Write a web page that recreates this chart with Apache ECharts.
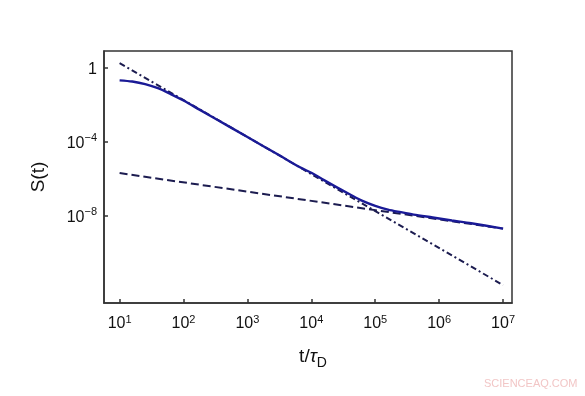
<!DOCTYPE html>
<html>
<head>
<meta charset="utf-8">
<script src="https://cdn.jsdelivr.net/npm/echarts@6/dist/echarts.min.js"></script>
<style>
html,body{margin:0;padding:0;background:#fff;}
#c{width:585px;height:396px;position:relative;}
#wm{position:absolute;left:484px;top:377px;font:11px "Liberation Sans",Arial,sans-serif;color:#f2c6c6;letter-spacing:0px;}
</style>
</head>
<body>
<div id="c"></div>
<div id="wm">SCIENCEAQ.COM</div>
<script>
// Solid curve S(t)
const tSolid = [10, 15.8, 25.1, 39.8, 63.1, 100, 178, 316, 1000, 3160, 6760, 1e4, 1.58e4, 2.51e4, 3.98e4, 6.31e4, 1e5, 1.58e5, 2.51e5, 3.98e5, 7.94e5, 1.58e6, 3.16e6, 1e7];
const sSolid = [0.216, 0.186, 0.135, 0.0813, 0.0389, 0.0174, 5.62e-3, 1.82e-3, 1.86e-4, 1.91e-5, 4.17e-6, 2.19e-6, 8.71e-7, 3.55e-7, 1.51e-7, 6.61e-8, 3.55e-8, 2.24e-8, 1.62e-8, 1.20e-8, 8.32e-9, 5.75e-9, 4.07e-9, 2.09e-9];
// Dash-dot asymptote (t^-2)
const tDashDot = [10, 1e7];
const sDashDot = [1.86, 1.86e-12];
// Dashed asymptote (t^-1/2)
const tDashed = [10, 1e7];
const sDashed = [2.09e-6, 2.09e-9];
// Tick values
const xTicks = [10, 100, 1000, 1e4, 1e5, 1e6, 1e7];
const yTicks = [1, 1e-4, 1e-8];

const pair = (xs, ys) => xs.map((x, i) => [x, ys[i]]);
const expOf = v => Math.round(Math.log10(v));
const font = '"Liberation Sans", Arial, sans-serif';

const chart = echarts.init(document.getElementById('c'), null, {renderer: 'canvas'});
chart.setOption({
  animation: false,
  backgroundColor: '#fff',
  grid: {left: 104, top: 51, right: 73, bottom: 93, show: true, borderColor: '#333', borderWidth: 1.5, backgroundColor: 'transparent'},
  xAxis: {
    type: 'log', logBase: 10, min: 5.7, max: 1.38e7,
    name: '{a|t/}{i|τ}{s|D}', nameLocation: 'middle', nameGap: 40,
    nameTextStyle: {padding: [0, 0, 0, 10], rich: {
      a: {fontSize: 19, fontFamily: font, color: '#111'},
      i: {fontSize: 19, fontFamily: font, fontStyle: 'italic', color: '#111'},
      s: {fontSize: 14, fontFamily: font, color: '#111', padding: [13, 0, 0, 0]}
    }},
    axisLine: {show: true, lineStyle: {color: '#333', width: 1.5}},
    splitLine: {show: false},
    axisTick: {show: true, inside: true, length: 4, customValues: xTicks, lineStyle: {color: '#333', width: 1.5}},
    axisLabel: {
      customValues: xTicks, margin: 11, color: '#111',
      formatter: v => '{b|10}{s|' + expOf(v) + '}',
      rich: {
        b: {fontSize: 16, fontFamily: font, color: '#111'},
        s: {fontSize: 11, fontFamily: font, color: '#111', padding: [0, 0, 9, 0]}
      }
    }
  },
  yAxis: {
    type: 'log', logBase: 10, min: 2e-13, max: 8.3,
    name: 'S(t)', nameLocation: 'middle', nameGap: 56, nameRotate: 90,
    nameTextStyle: {fontSize: 19, fontFamily: font, color: '#111'},
    axisLine: {show: true, lineStyle: {color: '#333', width: 1.5}},
    splitLine: {show: false},
    axisTick: {show: true, inside: true, length: 4, customValues: yTicks, lineStyle: {color: '#333', width: 1.5}},
    axisLabel: {
      customValues: yTicks, margin: 7, color: '#111',
      formatter: v => expOf(v) === 0 ? '{b|1}' : '{b|10}{s|−' + (-expOf(v)) + '}',
      rich: {
        b: {fontSize: 16, fontFamily: font, color: '#111', padding: [3, 0, 0, 0]},
        s: {fontSize: 11, fontFamily: font, color: '#111', padding: [0, 0, 9, 0]}
      }
    }
  },
  series: [
    {type: 'line', data: pair(tDashed, sDashed), showSymbol: false, smooth: false,
     lineStyle: {color: '#1c1c50', width: 2, type: [8, 4]}},
    {type: 'line', data: pair(tDashDot, sDashDot), showSymbol: false,
     lineStyle: {color: '#1c1c50', width: 2, type: [6, 3, 2, 3]}},
    {type: 'line', data: pair(tSolid, sSolid), showSymbol: false, smooth: 0.3,
     lineStyle: {color: '#1a1a96', width: 2.4}}
  ]
});
</script>
</body>
</html>
